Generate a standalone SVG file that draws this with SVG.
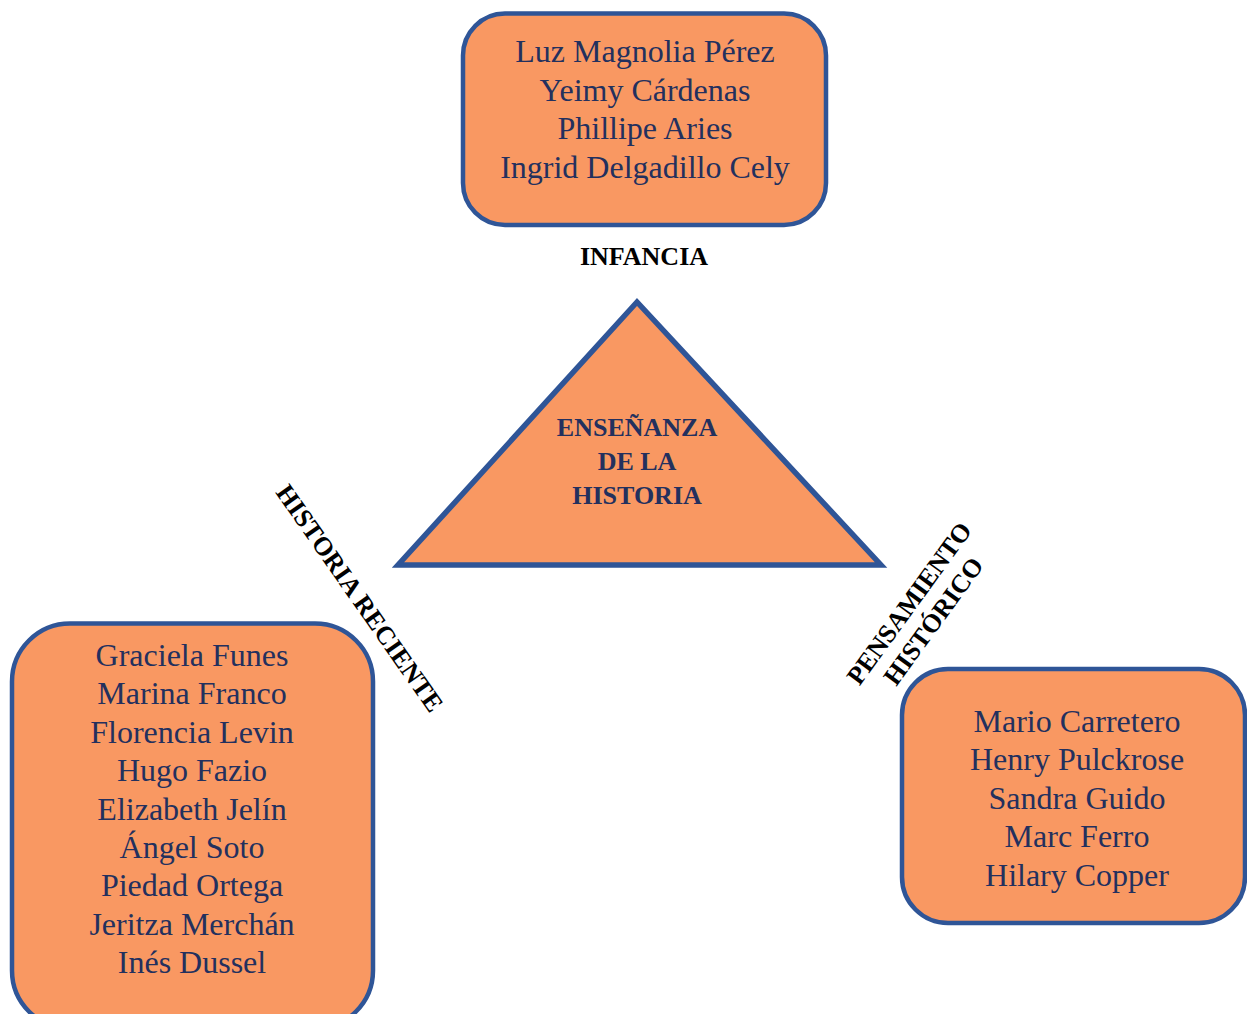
<svg xmlns="http://www.w3.org/2000/svg" width="1247" height="1014" viewBox="0 0 1247 1014">
<style>
.box{fill:#F99862;stroke:#2F5597;stroke-width:4.5}
.name{font-family:"Liberation Serif","Times New Roman",serif;font-size:32px;fill:#23305E;text-anchor:middle}
.lbl{font-family:"Liberation Serif","Times New Roman",serif;font-size:26px;font-weight:bold;fill:#000;text-anchor:middle}
.tri{font-family:"Liberation Serif","Times New Roman",serif;font-size:26px;font-weight:bold;fill:#23305E;text-anchor:middle}
</style>
<rect width="1247" height="1014" fill="#fff"/>
<g id="center">
<polygon points="637,302 398,565 881,565" fill="#F99862" stroke="#2F5597" stroke-width="5.5"/>
<text class="tri" x="637" y="436">ENSEÑANZA</text>
<text class="tri" x="637" y="470">DE LA</text>
<text class="tri" x="637" y="503.5">HISTORIA</text>
</g>
<g id="infancia">
<rect class="box" x="463" y="13.5" width="363" height="211.5" rx="42"/>
<text class="name" x="645" y="62">Luz Magnolia Pérez</text>
<text class="name" x="645" y="100.5">Yeimy Cárdenas</text>
<text class="name" x="645" y="139">Phillipe Aries</text>
<text class="name" x="645" y="177.5">Ingrid Delgadillo Cely</text>
</g>
<g id="historia-reciente">
<rect class="box" x="12" y="623.5" width="361" height="405" rx="58"/>
<text class="name" x="192" y="666">Graciela Funes</text>
<text class="name" x="192" y="704.4">Marina Franco</text>
<text class="name" x="192" y="742.8">Florencia Levin</text>
<text class="name" x="192" y="781.2">Hugo Fazio</text>
<text class="name" x="192" y="819.6">Elizabeth Jelín</text>
<text class="name" x="192" y="858">Ángel Soto</text>
<text class="name" x="192" y="896.4">Piedad Ortega</text>
<text class="name" x="192" y="934.8">Jeritza Merchán</text>
<text class="name" x="192" y="973.2">Inés Dussel</text>
</g>
<g id="pensamiento">
<rect class="box" x="902" y="669" width="343" height="254" rx="46"/>
<text class="name" x="1077" y="732">Mario Carretero</text>
<text class="name" x="1077" y="770.4">Henry Pulckrose</text>
<text class="name" x="1077" y="808.8">Sandra Guido</text>
<text class="name" x="1077" y="847.2">Marc Ferro</text>
<text class="name" x="1077" y="885.6">Hilary Copper</text>
</g>
<g id="connectors">
<text class="lbl" x="644" y="265">INFANCIA</text>
<text class="lbl" transform="translate(360,598) rotate(55)" x="0" y="9">HISTORIA RECIENTE</text>
<g transform="translate(921,612) rotate(-54)">
<text class="lbl" x="0" y="-6">PENSAMIENTO</text>
<text class="lbl" x="0" y="24">HISTÓRICO</text>
</g>
</g>
</svg>
